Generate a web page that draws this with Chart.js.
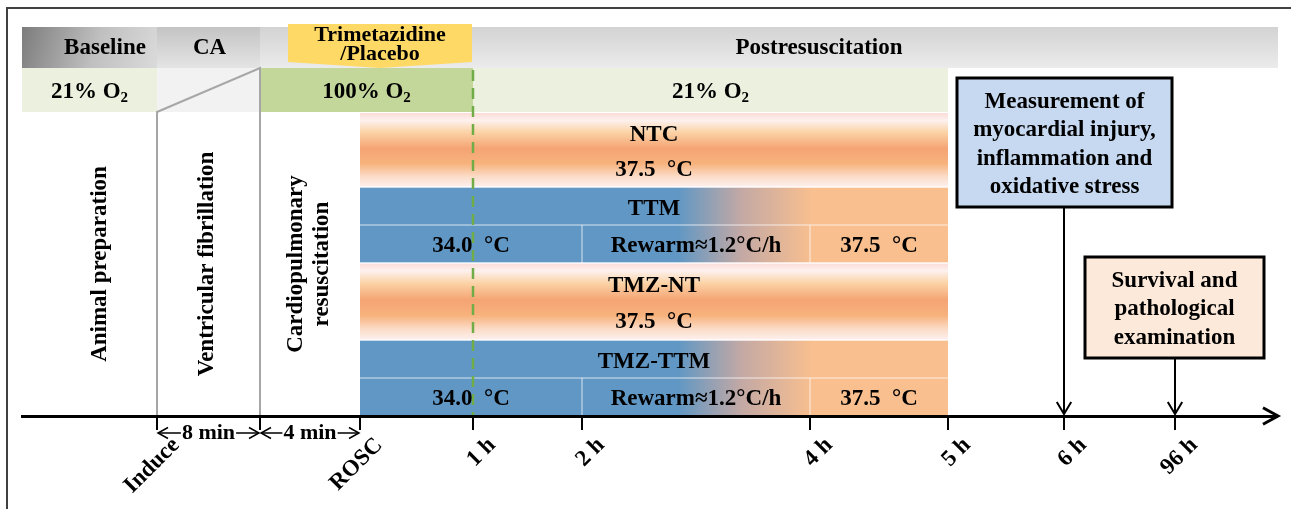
<!DOCTYPE html>
<html>
<head>
<meta charset="utf-8">
<script src="https://cdn.jsdelivr.net/npm/chart.js@4.4.1/dist/chart.umd.min.js"></script>
<style>
  html, body { margin: 0; padding: 0; background: #fff; }
</style>
</head>
<body>
<canvas id="timeline" width="1291" height="509"></canvas>
<script>
// schematic timeline: positions along the axis, in axis units
const milestoneLabels = ['Induce', '', 'ROSC', '1 h', '2 h', '4 h', '5 h', '6 h', '96 h'];
const milestonePos = [157, 260, 360, 473, 582, 810, 948, 1064, 1175];

const intervalLabels = ['8 min', '4 min'];
const intervalFrom = [0, 1];
const intervalTo = [1, 2];

const phaseLabels = ['Baseline', 'CA', 'Postresuscitation'];
const phaseEdges = [22, 157, 260, 1278];

const o2Labels = ['21%', '', '100%', '21%'];
const o2Edges = [22, 157, 260, 473, 948];

const procLabels = [['Animal preparation'], ['Ventricular fibrillation'], ['Cardiopulmonary', 'resuscitation']];
const procCenters = [100, 207, 309];

const groupNames = ['NTC', 'TTM', 'TMZ-NT', 'TMZ-TTM'];
const groupCooled = [false, true, false, true];
const groupEdges = [113, 187, 263, 340, 416];

const normoLabel = '37.5  °C';
const hypoLabels = ['34.0  °C', 'Rewarm≈1.2°C/h', '37.5  °C'];
const hypoEdges = [2, 4, 5, 6]; // milestone indices: ROSC, 2 h, 4 h, 5 h

const drugLabel = ['Trimetazidine', '/Placebo'];
const drugSpan = [288, 472];

const eventLabels = [
    ['Measurement of', 'myocardial injury,', 'inflammation and', 'oxidative stress'],
    ['Survival and', 'pathological', 'examination']
];
const eventAt = [7, 8];
const eventBoxX = [[957, 1172], [1085, 1264]];
const eventBoxY = [[78, 207], [257, 358]];

// rows of the header band (y units)
const headerRows = [27, 68, 112];
const axisY = 416;

const COLORS = {
    blue: '#6097c4',
    orange: '#f9bf8f',
    greenLight: '#ebf1de',
    greenDark: '#c4d79b',
    dash: '#70ad47',
    guide: '#a6a6a6',
    yellow: '#ffd966',
    eventFill: ['#c6d9f0', '#fde9d9']
};
const SERIF = '"Liberation Serif", "Times New Roman", serif';

function font(size) {
    return `bold ${size}px ${SERIF}`;
}

function label(ctx, str, x, y, size) {
    ctx.font = font(size);
    ctx.textAlign = 'center';
    ctx.textBaseline = 'middle';
    ctx.fillStyle = '#000';
    ctx.fillText(str, x, y);
}

function o2Label(ctx, pct, cx, cy) {
    const main = pct + ' O';
    ctx.font = font(23);
    const w1 = ctx.measureText(main).width;
    ctx.font = font(15);
    const w2 = ctx.measureText('2').width;
    const x0 = cx - (w1 + w2) / 2;
    ctx.fillStyle = '#000';
    ctx.textAlign = 'left';
    ctx.textBaseline = 'alphabetic';
    ctx.font = font(23);
    ctx.fillText(main, x0, cy + 8);
    ctx.font = font(15);
    ctx.fillText('2', x0 + w1, cy + 12);
}

function chevron(ctx, x, y, dir, size, width) {
    ctx.beginPath();
    if (dir === 'down') {
        ctx.moveTo(x - size * 0.6, y - size);
        ctx.lineTo(x, y);
        ctx.lineTo(x + size * 0.6, y - size);
    } else if (dir === 'left') {
        ctx.moveTo(x + size, y - size * 0.55);
        ctx.lineTo(x, y);
        ctx.lineTo(x + size, y + size * 0.55);
    } else {
        ctx.moveTo(x - size, y - size * 0.55);
        ctx.lineTo(x, y);
        ctx.lineTo(x - size, y + size * 0.55);
    }
    ctx.lineWidth = width;
    ctx.strokeStyle = '#000';
    ctx.stroke();
}

const schematic = {
    id: 'schematic',
    beforeDraw(chart) {
        const ctx = chart.ctx;
        const X = v => chart.scales.x.getPixelForValue(v);
        const Y = v => chart.scales.y.getPixelForValue(v);
        ctx.save();

        // outer frame
        ctx.strokeStyle = '#404040';
        ctx.lineWidth = 2;
        ctx.strokeRect(X(7), Y(8), 1320, 540);

        // header phases
        const hTop = Y(headerRows[0]), hBot = Y(headerRows[1]);
        const headerGrads = [
            [['0', '#7c7c7c'], ['0.55', '#c0c0c0'], ['1', '#dadada']],
            [['0', '#c4c4c4'], ['1', '#e4e4e4']],
            [['0', '#d3d3d3'], ['1', '#ebebeb']]
        ];
        phaseLabels.forEach((p, i) => {
            const x0 = X(phaseEdges[i]), x1 = X(phaseEdges[i + 1]);
            const g = i === 0 ? ctx.createLinearGradient(x0, hTop, x1, hBot) : ctx.createLinearGradient(0, hTop, 0, hBot);
            headerGrads[i].forEach(s => g.addColorStop(+s[0], s[1]));
            ctx.fillStyle = g;
            ctx.fillRect(x0, hTop, x1 - x0, hBot - hTop);
        });

        // oxygen row
        const oTop = Y(headerRows[1]), oBot = Y(headerRows[2]);
        const o2Fill = [COLORS.greenLight, '#f2f2f2', COLORS.greenDark, COLORS.greenLight];
        o2Labels.forEach((l, i) => {
            const x0 = X(o2Edges[i]), x1 = X(o2Edges[i + 1]);
            ctx.fillStyle = o2Fill[i];
            ctx.fillRect(x0, oTop, x1 - x0, oBot - oTop);
        });

        // CA guide lines
        ctx.strokeStyle = COLORS.guide;
        ctx.lineWidth = 2;
        ctx.beginPath();
        ctx.moveTo(X(milestonePos[0]), Y(axisY));
        ctx.lineTo(X(milestonePos[0]), oBot);
        ctx.lineTo(X(milestonePos[1]), oTop);
        ctx.lineTo(X(milestonePos[1]), Y(axisY));
        ctx.stroke();

        // treatment lanes
        const lx0 = X(milestonePos[hypoEdges[0]]), lx1 = X(milestonePos[hypoEdges[3]]);
        groupNames.forEach((name, i) => {
            const y0 = Y(groupEdges[i]), y1 = Y(groupEdges[i + 1]);
            let g;
            if (groupCooled[i]) {
                g = ctx.createLinearGradient(lx0, 0, lx1, 0);
                g.addColorStop(0, COLORS.blue);
                g.addColorStop(0.54, COLORS.blue);
                g.addColorStop(0.65, '#c4a9a4');
                g.addColorStop(0.77, COLORS.orange);
                g.addColorStop(1, COLORS.orange);
            } else {
                g = ctx.createLinearGradient(0, y0, 0, y1);
                g.addColorStop(0, '#fbdcd8');
                g.addColorStop(0.1, '#fdf1ee');
                g.addColorStop(0.26, '#fbd3a6');
                g.addColorStop(0.48, '#f5a474');
                g.addColorStop(0.68, '#f7b27c');
                g.addColorStop(0.86, '#fbdcc8');
                g.addColorStop(1, '#fdf0ee');
            }
            ctx.fillStyle = g;
            ctx.fillRect(lx0, y0, lx1 - lx0, y1 - y0);
        });
        // lane separators
        ctx.strokeStyle = 'rgba(255,255,255,0.9)';
        ctx.lineWidth = 1.5;
        groupEdges.slice(1, -1).forEach(e => {
            ctx.beginPath();
            ctx.moveTo(lx0, Y(e));
            ctx.lineTo(lx1, Y(e));
            ctx.stroke();
        });
        ctx.lineWidth = 1;
        ctx.strokeStyle = 'rgba(255,255,255,0.75)';
        groupNames.forEach((name, i) => {
            if (!groupCooled[i]) return;
            const mid = Y((groupEdges[i] + groupEdges[i + 1]) / 2);
            const y1 = Y(groupEdges[i + 1]);
            ctx.beginPath();
            ctx.moveTo(lx0, mid);
            ctx.lineTo(lx1, mid);
            [1, 2].forEach(k => {
                const xx = X(milestonePos[hypoEdges[k]]);
                ctx.moveTo(xx, mid);
                ctx.lineTo(xx, y1);
            });
            ctx.stroke();
        });

        // ROSC + 1 h dashed marker
        ctx.strokeStyle = COLORS.dash;
        ctx.lineWidth = 2.5;
        ctx.setLineDash([11, 7]);
        ctx.beginPath();
        ctx.moveTo(X(milestonePos[3]), oTop + 2);
        ctx.lineTo(X(milestonePos[3]), Y(axisY));
        ctx.stroke();
        ctx.setLineDash([]);

        // drug callout
        const dx0 = X(drugSpan[0]), dx1 = X(drugSpan[1]);
        ctx.fillStyle = COLORS.yellow;
        ctx.beginPath();
        ctx.moveTo(dx0, Y(24));
        ctx.lineTo(dx1, Y(24));
        ctx.lineTo(dx1, hBot - 6);
        ctx.lineTo((dx0 + dx1) / 2, hBot);
        ctx.lineTo(dx0, hBot - 6);
        ctx.closePath();
        ctx.fill();

        // header text
        const hMid = (hTop + hBot) / 2 + 1;
        label(ctx, phaseLabels[0], X(phaseEdges[0]) + 83, hMid, 23);
        label(ctx, phaseLabels[1], (X(phaseEdges[1]) + X(phaseEdges[2])) / 2 + 1, hMid, 23);
        label(ctx, phaseLabels[2], (X(milestonePos[2]) + X(phaseEdges[3])) / 2, hMid, 23);
        label(ctx, drugLabel[0], (dx0 + dx1) / 2, Y(35), 22);
        label(ctx, drugLabel[1], (dx0 + dx1) / 2, Y(54), 22);

        // oxygen text
        o2Labels.forEach((l, i) => {
            if (!l) return;
            o2Label(ctx, l, (X(o2Edges[i]) + X(o2Edges[i + 1])) / 2, (oTop + oBot) / 2);
        });

        // procedure labels (vertical)
        procLabels.forEach((lines, i) => {
            ctx.save();
            ctx.translate(X(procCenters[i]), Y(264));
            ctx.rotate(-Math.PI / 2);
            lines.forEach((line, k) => {
                label(ctx, line, 0, (k - (lines.length - 1) / 2) * 26, 23);
            });
            ctx.restore();
        });

        // lane text
        const cx = (lx0 + lx1) / 2;
        groupNames.forEach((name, i) => {
            const y0 = Y(groupEdges[i]), y1 = Y(groupEdges[i + 1]);
            if (groupCooled[i]) {
                const mid = (y0 + y1) / 2;
                label(ctx, name, cx, (y0 + mid) / 2 + 3, 23);
                hypoLabels.forEach((t, k) => {
                    const a = X(milestonePos[hypoEdges[k]]), b = X(milestonePos[hypoEdges[k + 1]]);
                    label(ctx, t, (a + b) / 2, (mid + y1) / 2 + 2, 23);
                });
            } else {
                label(ctx, name, cx, y0 + (y1 - y0) * 0.3, 23);
                label(ctx, normoLabel, cx, y0 + (y1 - y0) * 0.77, 23);
            }
        });
        ctx.restore();
    },
    afterDraw(chart) {
        const ctx = chart.ctx;
        const X = v => chart.scales.x.getPixelForValue(v);
        const Y = v => chart.scales.y.getPixelForValue(v);
        const ay = Y(axisY);
        ctx.save();

        // axis arrow head
        chevron(ctx, chart.chartArea.right + 1, ay, 'right', 15, 3);

        // interval arrows under the axis
        intervalLabels.forEach((t, i) => {
            const a = X(milestonePos[intervalFrom[i]]), b = X(milestonePos[intervalTo[i]]);
            const y = ay + 17;
            ctx.font = font(22);
            const w = ctx.measureText(t).width;
            const m = (a + b) / 2;
            ctx.strokeStyle = '#000';
            ctx.lineWidth = 1.5;
            ctx.beginPath();
            ctx.moveTo(a + 1, y);
            ctx.lineTo(m - w / 2 - 1, y);
            ctx.moveTo(m + w / 2 + 1, y);
            ctx.lineTo(b - 1, y);
            ctx.stroke();
            chevron(ctx, a + 1, y, 'left', 10, 1.5);
            chevron(ctx, b - 1, y, 'right', 10, 1.5);
            label(ctx, t, m, y, 22);
        });

        // measurement / survival boxes
        eventLabels.forEach((lines, i) => {
            const x0 = X(eventBoxX[i][0]), x1 = X(eventBoxX[i][1]);
            const y0 = Y(eventBoxY[i][0]), y1 = Y(eventBoxY[i][1]);
            const px = X(milestonePos[eventAt[i]]);
            ctx.fillStyle = COLORS.eventFill[i];
            ctx.fillRect(x0, y0, x1 - x0, y1 - y0);
            ctx.strokeStyle = '#000';
            ctx.lineWidth = 3;
            ctx.strokeRect(x0, y0, x1 - x0, y1 - y0);
            ctx.lineWidth = 2;
            ctx.beginPath();
            ctx.moveTo(px, y1);
            ctx.lineTo(px, ay - 2);
            ctx.stroke();
            chevron(ctx, px, ay - 2, 'down', 12, 2);
            const cy = (y0 + y1) / 2 + 2;
            lines.forEach((line, k) => {
                label(ctx, line, (x0 + x1) / 2, cy + (k - (lines.length - 1) / 2) * 28.5, 23);
            });
        });
        ctx.restore();
    }
};

new Chart(document.getElementById('timeline'), {
    type: 'scatter',
    data: {
        datasets: [{
            label: 'milestones',
            data: milestonePos.map(v => ({ x: v, y: axisY })),
            pointRadius: 0,
            showLine: false
        }]
    },
    options: {
        responsive: false,
        animation: false,
        events: [],
        layout: { padding: { left: 22, right: 14, top: 0, bottom: 0 } },
        plugins: { legend: { display: false }, tooltip: { enabled: false } },
        scales: {
            x: {
                type: 'linear',
                min: 22,
                max: 1277,
                position: { y: axisY },
                afterBuildTicks: scale => {
                    scale.ticks = milestonePos.map(v => ({ value: v }));
                },
                grid: { drawOnChartArea: false, drawTicks: true, tickLength: 12, color: '#000', lineWidth: 2 },
                border: { display: true, color: '#000', width: 3 },
                ticks: {
                    autoSkip: false,
                    minRotation: 45,
                    maxRotation: 45,
                    padding: 4,
                    labelOffset: 19,
                    color: '#000',
                    font: { family: SERIF, weight: 'bold', size: 23 },
                    callback: (v, i) => milestoneLabels[i]
                }
            },
            y: { type: 'linear', display: false, reverse: true, min: 0, max: 509 }
        }
    },
    plugins: [schematic]
});
</script>
</body>
</html>
